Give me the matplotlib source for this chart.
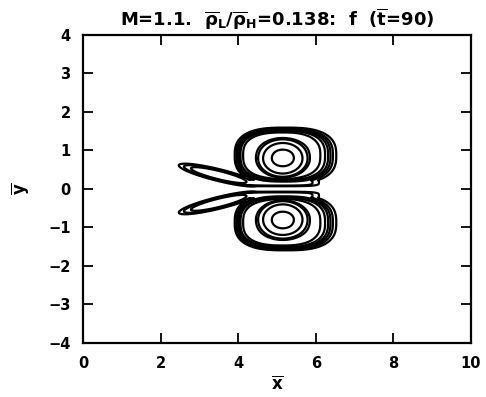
import numpy as np
import matplotlib
matplotlib.use("Agg")
import matplotlib.pyplot as plt

plt.rcParams['font.family'] = 'DejaVu Sans'
plt.rcParams['font.weight'] = 'bold'
plt.rcParams['mathtext.fontset'] = 'custom'
plt.rcParams['mathtext.rm'] = 'DejaVu Sans:bold'
plt.rcParams['mathtext.it'] = 'DejaVu Sans:bold'
plt.rcParams['mathtext.bf'] = 'DejaVu Sans:bold'

# upper half of the mixing region (lower half is its mirror image about y=0)
lobe_center = [5.17, 0.87]
lobe_axes = [1.15, 0.66]
core_center = [5.15, 0.79]
core_width = [0.50, 0.40]
tail_center = [3.5, 0.36]
tail_half = [0.9, 0.13]
tail_angle = -14.0
# thin sheet of light gas left along the axis between the two lobes
sheet_center = [5.05, 0.17]
sheet_half = [0.95, 0.09]

# mass fraction contour levels
levels = [0.02, 0.06, 0.12, 0.2, 0.3, 0.38, 0.44, 0.47, 0.62, 0.92]

x = np.linspace(0, 10, 801)
y = np.linspace(-4, 4, 641)
X, Y = np.meshgrid(x, y)


def sigmoid(r, w):
    return 1.0 / (1.0 + np.exp(np.clip((r - 1.0) / w, -50, 50)))


def box(X, Y, c, h, p):
    return (np.abs((X - c[0]) / h[0]) ** p + np.abs((Y - c[1]) / h[1]) ** p) ** (1 / p)


def half_field(X, Y):
    dx = (X - lobe_center[0]) / lobe_axes[0]
    r = box(X, Y, lobe_center, lobe_axes, 2.7)
    # interface is thin along the top, more spread on the downstream side
    right = np.clip(dx / (r + 1e-9), 0, 1)
    w = 0.032 + 0.03 * right ** 2
    edge = sigmoid(r, w)
    body = edge * (0.4 + 0.1 * np.clip(1 - r / 0.85, 0, 1))
    # rolled-up vortex core
    q = ((X - core_center[0]) / core_width[0]) ** 2 + ((Y - core_center[1]) / core_width[1]) ** 2
    body = body + 0.5 * np.exp(-q ** 2) * edge
    # trailing filament
    a = np.deg2rad(tail_angle)
    u = (X - tail_center[0]) * np.cos(a) + (Y - tail_center[1]) * np.sin(a)
    v = -(X - tail_center[0]) * np.sin(a) + (Y - tail_center[1]) * np.cos(a)
    rt = np.sqrt((u / tail_half[0]) ** 2 + (v / tail_half[1]) ** 2)
    tail = 0.14 * sigmoid(rt, 0.1)
    sheet = 0.08 * sigmoid(box(X, Y, sheet_center, sheet_half, 4), 0.08)
    return np.maximum.reduce([body, tail, sheet])


f = np.maximum(half_field(X, Y), half_field(X, -Y))

fig = plt.figure(figsize=(4.86, 3.97), dpi=100)
ax = fig.add_axes([0.1708, 0.136, 0.798, 0.776])
ax.contour(X, Y, f, levels=levels, colors='black', linewidths=1.6)

ax.set_xlim(0, 10)
ax.set_ylim(-4, 4)
ax.set_xticks([0, 2, 4, 6, 8, 10])
ax.set_yticks([-4, -3, -2, -1, 0, 1, 2, 3, 4])
ax.tick_params(direction='in', length=7.5, width=1.3, top=True, right=True,
               labelsize=10.5, pad=9)
for s in ax.spines.values():
    s.set_linewidth(1.6)
ax.set_xlabel(r'$\overline{x}$', fontsize=12, labelpad=3)
ax.set_ylabel(r'$\overline{y}$', fontsize=12, labelpad=12)
ax.set_title(r'M=1.1.  $\overline{\rho}_L/\overline{\rho}_H$=0.138:  f  ($\overline{t}$=90)',
             fontsize=13, fontweight='bold', pad=7)

fig.savefig('out.png', dpi=100)
